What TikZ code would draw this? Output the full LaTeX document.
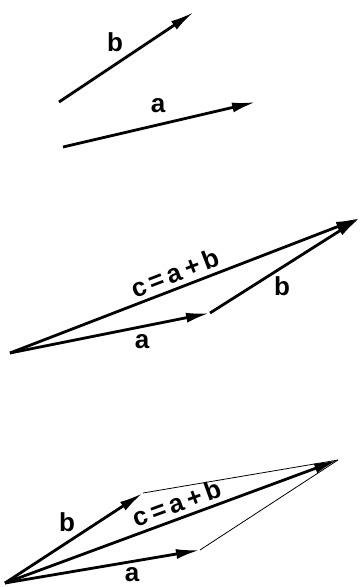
\documentclass[tikz,border=0pt]{standalone}
\usepackage{fontspec}
\setsansfont{Liberation Sans}
\usepackage{tikz}
\usetikzlibrary{arrows.meta}
\tikzset{
    vec/.style={line width=2.8pt, -{Latex[length=24pt,width=10pt]}},
    thinside/.style={line width=0.8pt},
    lbl/.style={font=\sffamily\bfseries\fontsize{26}{30}\selectfont, inner sep=0pt}
}

\begin{document}
\begin{tikzpicture}[x=1pt, y=-1pt]
    \useasboundingbox (0,0) rectangle (362,587);

    % the two vectors
    \coordinate (bTail) at (59,102);
    \coordinate (bHead) at (194,12);
    \coordinate (aTail) at (63,147);
    \coordinate (aHead) at (256,102);
    \draw[vec] (bTail) -- (bHead);
    \draw[vec] (aTail) -- (aHead);
    \node[lbl] (bLabel) at (115,42) {b};
    \node[lbl] (aLabel) at (158,106) {a};

    % head to tail
    \coordinate (tOrigin) at (10,353);
    \coordinate (tMid) at (210,313);
    \coordinate (tEnd) at (360,218);
    \draw[vec] (tOrigin) -- (tMid);
    \draw[vec] (tMid) -- (tEnd);
    \draw[vec] (tOrigin) -- (tEnd);
    \node[lbl, rotate=21] (tSum) at (175,273) {c\,=\,a\,+\,b};
    \node[lbl] (tA) at (142,342) {a};
    \node[lbl] (tB) at (282,286) {b};

    % parallelogram
    \coordinate (pOrigin) at (5,583);
    \coordinate (pA) at (200,550);
    \coordinate (pB) at (143,493);
    \coordinate (pEnd) at (338,460);
    \draw[thinside] (pB) -- (pEnd);
    \draw[thinside] (pA) -- (pEnd);
    \draw[vec] (pOrigin) -- (pA);
    \draw[vec] (pOrigin) -- (pB);
    \draw[vec] (pOrigin) -- (pEnd);
    \node[lbl, rotate=20] (pSum) at (177,503) {c\,=\,a\,+\,b};
    \node[lbl] (pBLabel) at (67,522) {b};
    \node[lbl] (pALabel) at (132,575) {a};
\end{tikzpicture}
\end{document}
